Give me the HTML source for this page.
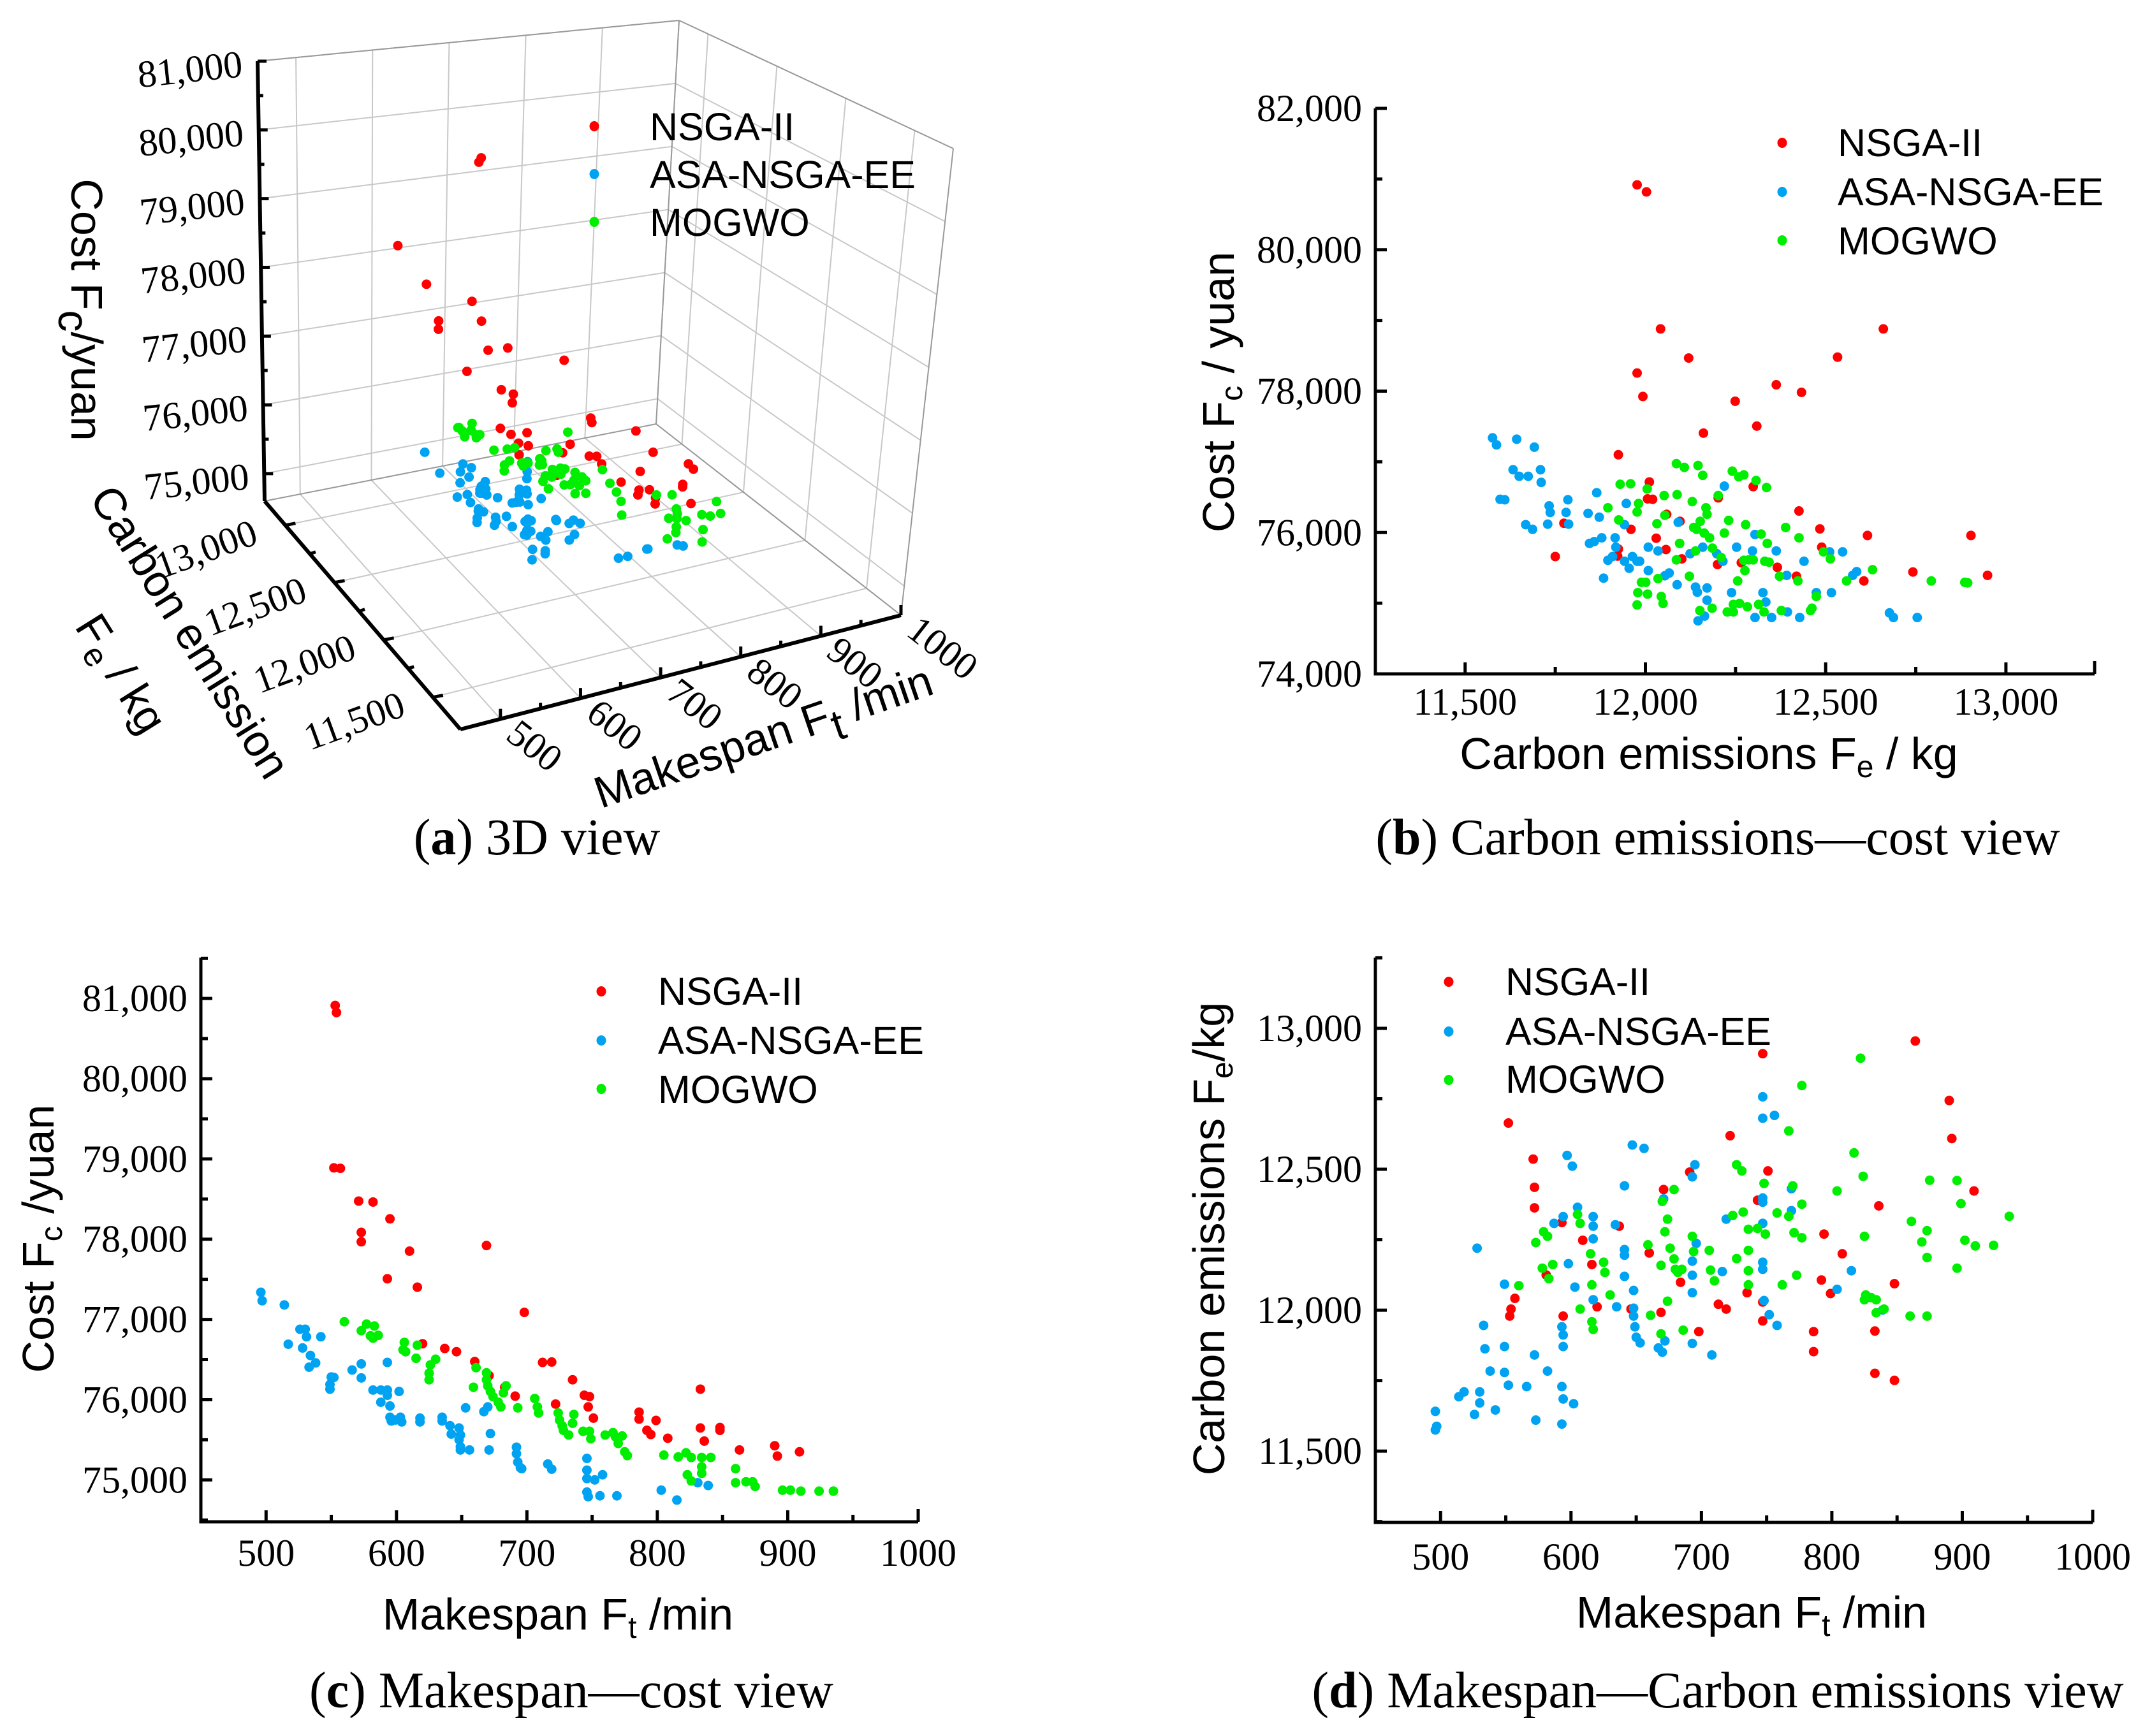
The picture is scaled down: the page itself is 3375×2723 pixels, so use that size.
<!DOCTYPE html>
<html><head><meta charset="utf-8"><style>
html,body{margin:0;padding:0;background:#fff;overflow:hidden;}
svg{display:block;}
.tk{font-family:"Liberation Serif",serif;font-size:60px;fill:#000;}
.ttl{font-family:"Liberation Sans",sans-serif;font-size:70px;fill:#000;}
.lg{font-family:"Liberation Sans",sans-serif;font-size:61px;fill:#000;}
.cap{font-family:"Liberation Serif",serif;font-size:80px;fill:#000;}
</style></head><body>
<svg id="fig" xmlns="http://www.w3.org/2000/svg" width="3375" height="2723" viewBox="0 0 3375 2723">
<rect width="3375" height="2723" fill="#fff"/>
<g id="pa"></g>
<g id="pb"></g>
<g id="pc"></g>
<g id="pd"></g>
<text class="cap" x="842" y="1340" text-anchor="middle">(<tspan font-weight="bold">a</tspan>) 3D view</text>
<text class="cap" x="2694" y="1340" text-anchor="middle">(<tspan font-weight="bold">b</tspan>) Carbon emissions—cost view</text>
<text class="cap" x="896" y="2678" text-anchor="middle">(<tspan font-weight="bold">c</tspan>) Makespan—cost view</text>
<text class="cap" x="2694" y="2678" text-anchor="middle">(<tspan font-weight="bold">d</tspan>) Makespan—Carbon emissions view</text>
</svg>
<script>
// ---------- Panel (b): carbon emissions (x) vs cost (y)
const bNsgaE=[11977,12003,12042,12120,11977,11993,12249,12161,12363,12433,12309,12533,12660,11925,12011,12006,12020,12202,12299,12426,12059,12096,11960,11774,11750,11925,11923,12030,12057,12101,12200,12266,12366,12419,12484,12489,12616,12606,12742,12903,12949];
const bNsgaC=[80918,80818,78880,78468,78256,77924,77857,77406,78090,77983,77505,78481,78880,77100,76715,76476,76470,76490,76649,76304,76257,76158,76045,76131,75660,75766,75666,75919,75759,75627,75547,75573,75507,75381,76051,75792,75958,75315,75441,75958,75394];
const bAsaE=[11576,11587,11643,11692,11633,11650,11675,11709,11711,11597,11610,11668,11687,11733,11736,11729,11780,11787,11785,11841,11865,11872,11845,11858,11879,11916,11918,11896,11909,11942,11955,11964,11977,11984,12008,12008,12035,12066,12054,12088,11947,11942,12091,12124,12139,12144,12159,12171,12171,12146,12164,12215,12198,12219,12239,12253,12297,12304,12326,12334,12363,12392,12394,12304,12350,12428,12440,12474,12511,12516,12547,12575,12586,12677,12688,12754,11884];
const bAsaC=[77339,77240,77320,77207,76888,76795,76795,76888,76709,76470,76463,76111,76045,76377,76284,76118,76284,76118,76463,76271,76563,76217,75846,75872,75925,75925,75792,75607,75660,75593,75494,75660,75593,75593,75792,75461,75739,75427,75388,75261,76410,76111,76144,75700,75228,75155,75792,75215,75042,74750,74817,75593,75700,76656,75149,75792,75739,75972,75149,75016,75739,75394,74876,74797,74797,74797,75593,75149,75726,75149,75726,75394,75447,74863,74797,74797,75354];
const bMogE=[11930,11959,11896,11926,11981,11977,12005,11979,11989,12001,12006,11977,12032,12035,12044,12049,12054,12052,12086,12108,12088,12130,12146,12159,12168,12171,12202,12134,12142,12152,12163,12095,12086,12122,12139,12178,12186,12210,12219,12231,12241,12259,12273,12307,12336,12278,12321,12338,12273,12287,12299,12331,12343,12276,12256,12151,12185,12227,12244,12244,12261,12283,12314,12329,12377,12389,12372,12423,12426,12474,12458,12462,12494,12513,12558,12630,12793,12886,12894];
const bMogC=[76682,76689,76350,76178,76410,76290,76616,75149,75295,75295,75129,74976,76124,75348,75095,74996,76244,76523,76974,76921,76536,76437,76948,76808,76350,76257,76523,76071,76045,76158,75992,75846,75613,75381,75739,75925,75779,75646,75992,76171,76868,76788,76815,76735,76636,76111,75978,75846,75607,75613,75613,75593,75580,75461,75315,74896,74929,74876,74876,74983,74996,74949,74983,74876,74896,76071,75381,75315,75925,75095,74896,74929,75726,75627,75315,75474,75315,75295,75288];
const bXTicks=[11500,12000,12500,13000];
const bYTicks=[74000,76000,78000,80000,82000];

// ---------- Panel (c): makespan (x) vs cost (y)
const cNsgaT=[553,554,552,557,571,582,573,573,595,610,593,616,669,698,620,637,646,660,712,719,671,735,683,691,744,748,722,747,751,786,786,799,792,795,808,833,833,836,848,848,863,890,892,909];
const cNsgaC=[80913,80825,78889,78883,78475,78463,78085,77968,78254,77851,77507,77402,77921,77088,76697,76638,76598,76475,76464,76469,76300,76248,76155,76044,76055,76038,75945,75910,75770,75845,75758,75741,75618,75566,75519,76131,75647,75484,75653,75618,75373,75426,75297,75350];
const cAsaT=[496,497,514,526,530,517,528,531,534,538,533,542,550,552,549,549,566,573,573,593,582,588,593,602,588,593,595,595,596,599,603,604,618,618,635,635,641,642,648,649,648,649,649,656,653,667,670,672,671,692,692,693,695,696,716,719,746,746,746,746,747,752,758,756,769,803,815,831,839];
const cAsaC=[77338,77233,77181,76878,76878,76691,76644,76784,76551,76458,76405,76784,76283,76277,76190,76131,76370,76446,76271,76464,76120,76120,76120,76102,75968,76055,75921,75781,75735,75746,75781,75723,75770,75723,75781,75735,75676,75571,75647,75560,75501,75414,75373,75373,75898,75851,75910,75577,75373,75408,75327,75222,75152,75140,75198,75134,75268,75122,75017,74848,74790,75000,75064,74802,74802,74872,74749,74965,74930];
const cMogT=[560,573,577,583,580,586,582,606,605,607,616,615,630,626,625,625,659,661,669,669,670,672,674,678,680,684,682,706,708,709,693,724,725,727,728,732,736,735,743,748,749,760,766,768,770,773,775,777,805,816,822,826,834,834,834,823,826,841,860,860,868,873,875,896,902,910,924,935];
const cMogC=[76971,76860,76942,76918,76796,76802,76767,76714,76621,76598,76679,76516,76504,76434,76330,76248,76155,76399,76335,76248,76172,76102,76038,75968,75910,76172,76085,76015,75910,75834,75898,75834,75746,75676,75618,75560,75816,75706,75606,75606,75513,75560,75589,75536,75455,75548,75350,75303,75309,75286,75338,75280,75280,75163,75082,75064,74988,75280,75140,74965,74977,74977,74918,74872,74872,74860,74860,74860];
const cXTicks=[500,600,700,800,900,1000];
const cYTicks=[75000,76000,77000,78000,79000,80000,81000];

// ---------- Panel (d): makespan (x) vs carbon emissions (y)
const dNsgaT=[552,571,572,572,557,554,553,581,593,594,609,616,620,637,646,660,669,671,684,691,698,713,719,722,735,743,747,747,747,751,786,786,792,794,799,808,833,833,836,848,848,864,890,892,909];
const dNsgaE=[12664,12536,12436,12363,12042,12004,11979,12125,12311,11979,12248,12162,12012,12298,12004,12203,11992,12428,12099,12490,11924,12021,12004,12619,12062,12390,12910,12029,11962,12494,11924,11853,12107,12270,12059,12200,11926,11776,12370,12094,11751,12955,12744,12609,12423];
const dAsaT=[496,497,496,514,518,530,530,526,542,528,533,534,538,549,549,549,552,566,572,573,582,593,594,593,602,594,594,593,597,601,587,594,598,603,605,617,617,617,617,634,635,641,641,641,641,647,656,648,648,648,649,650,653,667,670,672,671,693,695,693,693,693,693,696,708,716,719,747,747,756,747,747,747,747,747,748,752,758,769,769,804,815,839];
const dAsaE=[11641,11588,11575,11693,11710,11710,11671,11630,11646,12220,11946,11863,11784,11871,11779,12092,11734,11729,11841,11610,11784,11729,11685,11596,11668,11871,11912,11941,12549,12511,12308,12332,12165,12082,12365,12332,12298,12253,12037,12303,12012,12441,12215,12195,12120,12586,12574,12070,12007,11979,11941,11904,11884,11866,11851,11891,12395,12473,12516,12174,12124,12062,11882,12237,11841,12137,12323,12757,12681,12691,12398,12383,12308,12170,12145,12034,11984,11946,12431,12353,12074,12140,12001];
const dMogT=[560,573,578,579,582,583,586,605,607,607,615,616,616,617,625,626,630,659,661,669,669,670,672,674,674,676,679,679,680,682,685,686,693,694,706,707,710,724,727,727,732,731,736,736,736,736,743,748,749,758,762,767,767,770,771,773,777,777,777,804,817,824,825,826,825,830,834,834,840,822,860,861,869,873,873,875,896,896,899,902,910,924,936,873];
const dMogE=[12087,12240,12149,12278,12262,12112,12162,12340,12308,12004,12200,12090,11959,11932,12170,12134,12054,12232,11982,12159,11916,12386,12278,12323,12032,12220,12182,12428,12145,12134,12145,11929,12262,12208,12212,12142,12104,12336,12516,12183,12348,12494,12287,12212,12140,12090,12290,12450,12270,12345,12090,12636,12333,12441,12275,12124,12797,12376,12257,12423,12558,12475,12262,12054,12037,12045,12037,11991,12004,12894,11979,12315,12242,12282,12187,12461,12460,12149,12378,12248,12228,12230,12333,11979];
const dXTicks=[500,600,700,800,900,1000];
const dYTicks=[11500,12000,12500,13000];

// ---------- Panel (a) 3D ticks
const aTTicks=[500,600,700,800,900,1000];
const aETicks=[11500,12000,12500,13000];
const aCTicks=[75000,76000,77000,78000,79000,80000,81000];

const NS="http://www.w3.org/2000/svg";
const RED="#ff0000", BLUE="#00a2f2", GREEN="#00ee00";
const DOT=7.5;
function mk(tag,parent,attrs){const e=document.createElementNS(NS,tag);for(const k in attrs)e.setAttribute(k,attrs[k]);parent.appendChild(e);return e;}
function fmt(v){const s=String(Math.round(v));return s.length>4?s.slice(0,s.length-3)+","+s.slice(-3):s;}

function legend(g,x,ys,tx,tys){
  const names=["NSGA-II","ASA-NSGA-EE","MOGWO"],cols=[RED,BLUE,GREEN];
  for(let i=0;i<3;i++){
    const c=mk("ellipse",g,{cx:x,cy:ys[i],rx:7.5,ry:8,fill:cols[i]});
    
    
    const t=mk("text",g,{x:tx,y:tys[i],class:"lg"});t.textContent=names[i];
    
    
  }
}

function panel2D(g,geo,xT,yT,xMinor,yMinor,series,labX,labYb){
  const sx=v=>geo.left+(v-geo.xmin)/(geo.xmax-geo.xmin)*(geo.right-geo.left);
  const sy=v=>geo.bottom-(v-geo.ymin)/(geo.ymax-geo.ymin)*(geo.bottom-geo.top);
  const ax=mk("g",g,{});
  
  
  const yl=mk("line",ax,{x1:geo.left,y1:geo.top,x2:geo.left,y2:geo.bottom+2.5,stroke:"#000","stroke-width":5});
  
  
  const xl=mk("line",ax,{x1:geo.left-2.5,y1:geo.bottom,x2:geo.right,y2:geo.bottom,stroke:"#000","stroke-width":5});
  
  
  mk("line",ax,{x1:geo.right,y1:geo.bottom,x2:geo.right,y2:geo.bottom-20,stroke:"#000","stroke-width":5});
  for(let v=Math.ceil(geo.xmin/xMinor)*xMinor;v<=geo.xmax;v+=xMinor){
    const maj=xT.includes(v);
    mk("line",ax,{x1:sx(v),y1:geo.bottom,x2:sx(v),y2:geo.bottom-(maj?18:11),stroke:"#000","stroke-width":5});
  }
  for(let v=Math.ceil(geo.ymin/yMinor)*yMinor;v<=geo.ymax;v+=yMinor){
    const maj=yT.includes(v);
    mk("line",ax,{x1:geo.left,y1:sy(v),x2:geo.left+(maj?18:11),y2:sy(v),stroke:"#000","stroke-width":5});
  }
  xT.forEach(v=>{const t=mk("text",ax,{x:sx(v),y:labX,class:"tk","text-anchor":"middle"});t.textContent=fmt(v);
    
    });
  yT.forEach(v=>{const t=mk("text",ax,{x:geo.left-21,y:sy(v)+labYb,class:"tk","text-anchor":"end"});t.textContent=fmt(v);
    
    });
  series.forEach(s=>{
    const sg=mk("g",g,{fill:s.col});
    
    
    for(let i=0;i<s.x.length;i++){
      const p=mk("ellipse",sg,{cx:sx(s.x[i]),cy:sy(s.y[i]),rx:DOT,ry:DOT});
      
      
    }
  });
}

// Panel b
const pb=document.getElementById("pb");
panel2D(pb,{left:2157,right:3285,top:170,bottom:1057,xmin:11251,xmax:13246,ymin:74000,ymax:82000},
  bXTicks,bYTicks,250,1000,
  [{name:"nsga-ii",col:RED,x:bNsgaE,y:bNsgaC},{name:"asa-nsga-ee",col:BLUE,x:bAsaE,y:bAsaC},{name:"mogwo",col:GREEN,x:bMogE,y:bMogC}],1121,20);
legend(pb,2795,[224,301,377],2882,[245,322,399]);
(function(){
  const t=mk("text",pb,{class:"ttl",transform:"translate(1935,615) rotate(-90)","text-anchor":"middle"});
  t.innerHTML='Cost F<tspan font-size="48" dy="13">c</tspan><tspan dy="-13"> / yuan</tspan>';
  
  
  const x=mk("text",pb,{class:"ttl",x:2680,y:1206,"text-anchor":"middle"});
  x.innerHTML='Carbon emissions F<tspan font-size="48" dy="13">e</tspan><tspan dy="-13"> / kg</tspan>';
  
  
})();

// Panel c
const pc=document.getElementById("pc");
panel2D(pc,{left:315,right:1440,top:1502,bottom:2387,xmin:450,xmax:1000,ymin:74478,ymax:81510},
  cXTicks,cYTicks,50,500,
  [{name:"nsga-ii",col:RED,x:cNsgaT,y:cNsgaC},{name:"asa-nsga-ee",col:BLUE,x:cAsaT,y:cAsaC},{name:"mogwo",col:GREEN,x:cMogT,y:cMogC}],2456,20);
legend(pc,943,[1555,1632,1708],1032,[1576,1653,1730]);
(function(){
  const t=mk("text",pc,{class:"ttl",transform:"translate(84,1943) rotate(-90)","text-anchor":"middle"});
  t.innerHTML='Cost  F<tspan font-size="48" dy="13">c</tspan><tspan dy="-13"> /yuan</tspan>';
  
  
  const x=mk("text",pc,{class:"ttl",x:875,y:2556,"text-anchor":"middle"});
  x.innerHTML='Makespan F<tspan font-size="48" dy="13">t</tspan><tspan dy="-13"> /min</tspan>';
  
  
})();

// Panel d
const pd=document.getElementById("pd");
panel2D(pd,{left:2157,right:3282,top:1502,bottom:2388,xmin:450,xmax:1000,ymin:11247,ymax:13251},
  dXTicks,dYTicks,50,250,
  [{name:"nsga-ii",col:RED,x:dNsgaT,y:dNsgaE},{name:"asa-nsga-ee",col:BLUE,x:dAsaT,y:dAsaE},{name:"mogwo",col:GREEN,x:dMogT,y:dMogE}],2462,20);
legend(pd,2272,[1540,1618,1694],2361,[1561,1639,1714]);
(function(){
  const t=mk("text",pd,{class:"ttl",transform:"translate(1920,1943) rotate(-90)","text-anchor":"middle"});
  t.innerHTML='Carbon emissions F<tspan font-size="48" dy="13">e</tspan><tspan dy="-13">/kg</tspan>';
  
  
  const x=mk("text",pd,{class:"ttl",x:2747,y:2553,"text-anchor":"middle"});
  x.innerHTML='Makespan F<tspan font-size="48" dy="13">t</tspan><tspan dy="-13"> /min</tspan>';
  
  
})();

// Panel a (3D)
(function(){
  const g=document.getElementById("pa");
  const T0=450,T1=1000,E0=11220,E1=13210,C0=74600,C1=81000;
  const A=[415,786],B=[722,1144],Cc=[1413,965],D=[1029,665];
  const VA=[-11,-690],VD=[36,-633],VC=[82,-732],VB=[35,-789];
  function bil(pb,pc,pa,pd,u,v){return [0,1].map(k=>(1-u)*(1-v)*pb[k]+u*(1-v)*pc[k]+(1-u)*v*pa[k]+u*v*pd[k]);}
  function P(t,e,c){const u=(t-T0)/(T1-T0),v=(e-E0)/(E1-E0),w=(c-C0)/(C1-C0);
    const f=bil(B,Cc,A,D,u,v),vv=bil(VB,VC,VA,VD,u,v);return [f[0]+w*vv[0],f[1]+w*vv[1]];}
  function ln(p,q,st,sw,name){const l=mk("line",g,{x1:p[0],y1:p[1],x2:q[0],y2:q[1],stroke:st,"stroke-width":sw});
    
    return l;}
  const GR="#c8c8c8";
  aTTicks.forEach(t=>ln(P(t,E0,C0),P(t,E1,C0),GR,2,'floor-grid'));
  aETicks.forEach(e=>ln(P(T0,e,C0),P(T1,e,C0),GR,2,'floor-grid'));
  aTTicks.forEach(t=>ln(P(t,E1,C0),P(t,E1,C1),GR,2,'back-grid'));
  aCTicks.forEach(c=>ln(P(T0,E1,c),P(T1,E1,c),GR,2,'back-grid'));
  aETicks.forEach(e=>ln(P(T1,e,C0),P(T1,e,C1),GR,2,'side-grid'));
  aCTicks.forEach(c=>ln(P(T1,E0,c),P(T1,E1,c),GR,2,'side-grid'));
  ln(P(T0,E1,C1),P(T1,E1,C1),"#999",2,'box-edge');
  ln(P(T1,E1,C1),P(T1,E0,C1),"#999",2,'box-edge');
  ln(P(T1,E1,C0),P(T1,E1,C1),"#999",2,'box-edge');
  ln(P(T1,E0,C0),P(T1,E0,C1),"#999",2,'box-edge');
  ln(P(T0,E1,C0),P(T1,E1,C0),"#999",2,'box-edge');
  ln(P(T1,E0,C0),P(T1,E1,C0),"#999",2,'box-edge');
  ln(P(T0,E1,C0),P(T0,E1,C1),"#000",6,'cost-axis-line');
  ln(P(T0,E1,C0),P(T0,E0,C0),"#000",6,'carbon-axis-line');
  ln(P(T0,E0,C0),P(T1,E0,C0),"#000",6,'makespan-axis-line');
  for(let c=75000;c<=81000;c+=500){const p=P(T0,E1,c);ln(p,[p[0]+(c%1000?8:14),p[1]],"#000",5,'cost-tick');}
  aCTicks.forEach(c=>{const p=P(T0,E1,c);const t=mk("text",g,{x:p[0]-22,y:p[1]+24,class:"tk","text-anchor":"end",transform:`rotate(-6 ${p[0]-22} ${p[1]+24})`});t.textContent=fmt(c);
    
    });
  for(let e=11500;e<=13000;e+=250){const p=P(T0,e,C0);ln(p,[p[0]+(e%500?9:16),p[1]-3],"#000",5,'carbon-tick');}
  aETicks.forEach(e=>{const p=P(T0,e,C0);const x=p[0]-40,y=p[1]+28;const t=mk("text",g,{x:x,y:y,class:"tk","font-size":"50",transform:`rotate(-20 ${x} ${y})`,"text-anchor":"end"});t.textContent=fmt(e);
    
    });
  for(let t=500;t<=1000;t+=50){const p=P(t,E0,C0);ln(p,[p[0],p[1]-(t%100?9:16)],"#000",5,'makespan-tick');}
  aTTicks.forEach(tv=>{const p=P(tv,E0,C0);const x=p[0]+6,y=p[1]+30;const t=mk("text",g,{x:x,y:y,class:"tk","font-size":"50",transform:`rotate(38 ${x} ${y})`});t.textContent=fmt(tv);
    
    });
  const sets=[{name:"nsga-ii",col:RED,t:cNsgaT,c:cNsgaC,dt:dNsgaT,de:dNsgaE},{name:"asa-nsga-ee",col:BLUE,t:cAsaT,c:cAsaC,dt:dAsaT,de:dAsaE},{name:"mogwo",col:GREEN,t:cMogT,c:cMogC,dt:dMogT,de:dMogE}];
  sets.forEach(s=>{
    const sg=mk("g",g,{fill:s.col});
    
    
    for(let i=0;i<s.t.length;i++){
      let bj=0,bd=1e9;for(let j=0;j<s.dt.length;j++){const d=Math.abs(s.dt[j]-s.t[i]);if(d<bd){bd=d;bj=j;}}
      const p=P(s.t[i],s.de[bj],s.c[i]);
      const q=mk("ellipse",sg,{cx:p[0],cy:p[1],rx:DOT,ry:DOT});
      
      
    }
  });
  legend(g,932,[198,273,348],1019,[220,295,370]);
  const ct=mk("text",g,{class:"ttl","font-size":"104",transform:"translate(112,486) rotate(90)","text-anchor":"middle"});
  ct.innerHTML='Cost F<tspan font-size="68" dy="20">c</tspan><tspan dy="-20">/yuan</tspan>';
  
  
  const et=mk("text",g,{class:"ttl","font-size":"76",transform:"translate(278,1004) rotate(58)","text-anchor":"middle"});
  et.textContent='Carbon emission';
  
  
  const et2=mk("text",g,{class:"ttl","font-size":"80",transform:"translate(170,1069) rotate(58)","text-anchor":"middle"});
  et2.innerHTML='F<tspan font-size="52" dy="14">e</tspan><tspan dy="-14"> / kg</tspan>';
  
  
  const mt=mk("text",g,{class:"ttl","font-size":"104",transform:"translate(1205,1178) rotate(-19)","text-anchor":"middle"});
  mt.innerHTML='Makespan F<tspan font-size="68" dy="20">t</tspan><tspan dy="-20"> /min</tspan>';
  
  
})();
</script>
</body></html>
